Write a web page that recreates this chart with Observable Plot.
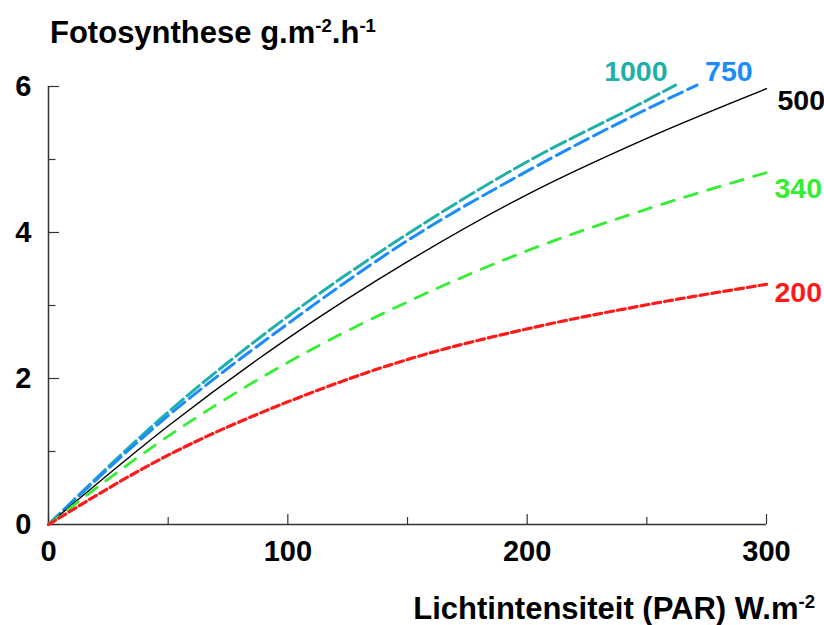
<!DOCTYPE html>
<html><head><meta charset="utf-8">
<script src="https://cdn.jsdelivr.net/npm/d3@7"></script>
<script src="https://cdn.jsdelivr.net/npm/@observablehq/plot@0.6"></script>
<style>
body{margin:0;background:#fff;}
#wrap{position:relative;width:824px;height:625px;font-family:"Liberation Sans",Arial,sans-serif;font-weight:bold;}
.ttl{position:absolute;font-size:31px;color:#000;white-space:nowrap;line-height:1;z-index:2;}
.ttl sup{font-size:0.6em;vertical-align:0.6em;line-height:0;}
#chart{position:absolute;left:0;top:50px;}
</style></head><body>
<div id="wrap">
<div class="ttl" id="title" style="left:50px;top:17px">Fotosynthese g.m<sup>-2</sup>.h<sup>-1</sup></div>
<div id="chart"></div>
<div class="ttl" id="xlab" style="right:9px;top:593px">Lichtintensiteit (PAR) W.m<sup>-2</sup></div>
</div>
<script>
// Light intensity (PAR, W/m2) sample points
const xFull = [0, 50, 100, 150, 200, 250, 300];
const x750 = [0, 50, 100, 150, 200, 250, 271];
const x1000 = [0, 50, 100, 150, 200, 250, 262];
// photosynthesis per CO2 level (ppm)
const y1000 = [0, 1.54, 2.85, 3.98, 4.97, 5.81, 6.02];
const y750 = [0, 1.49, 2.75, 3.89, 4.84, 5.69, 6.02];
const y500 = [0, 1.35, 2.55, 3.60, 4.52, 5.29, 5.97];
const y340 = [0, 1.21, 2.22, 3.05, 3.75, 4.32, 4.82];
const y200 = [0, 0.95, 1.68, 2.26, 2.68, 3.01, 3.29];
const seriesNames = ["1000", "750", "500", "340", "200"];
const xMajor = [0, 100, 200, 300];
const xMinor = [50, 150, 250];
const yMajor = [0, 2, 4, 6];
const yMinor = [1, 3, 5];

const seriesX = [x1000, x750, xFull, xFull, xFull];
const seriesY = [y1000, y750, y500, y340, y200];
const colors = ["#1fb0a9", "#1a8cff", "#000000", "#33ee33", "#ff1a1a"];
const dashes = ["16,5", "15,6", null, "13,11", "8,4"];
const widths = [3, 3, 1.4, 2.8, 3.2];
const labelStyle = [
  {dx: -8, dy: -13, textAnchor: "end"},
  {dx: 8, dy: -13, textAnchor: "start"},
  {dx: 11, dy: 12, textAnchor: "start"},
  {dx: 8, dy: 16, textAnchor: "start"},
  {dx: 8, dy: 9, textAnchor: "start"}
];

const marks = [];
seriesNames.forEach((name, i) => {
  const rows = seriesX[i].map((x, j) => ({x, y: seriesY[i][j], name}));
  marks.push(Plot.line(rows, {x: "x", y: "y", stroke: colors[i], strokeWidth: widths[i],
    strokeDasharray: dashes[i], curve: "monotone-x"}));
  marks.push(Plot.text([rows[rows.length - 1]], {x: "x", y: "y", text: "name", fill: colors[i],
    fontSize: 28.5, fontWeight: "bold", fontFamily: "Liberation Sans, Arial, sans-serif", ...labelStyle[i]}));
});

const chart = Plot.plot({
  width: 824,
  height: 530,
  marginLeft: 48,
  marginRight: 58,
  marginTop: 36,
  marginBottom: 56,
  style: {fontFamily: '"Liberation Sans",Arial,sans-serif', fontSize: "28px", fontWeight: "bold", color: "#000", background: "transparent"},
  x: {domain: [0, 300]},
  y: {domain: [0, 6]},
  marks: [
    Plot.axisX({ticks: xMajor, tickSize: -10, fill: "none", stroke: "#333", strokeWidth: 1.2, label: null}),
    Plot.axisX({ticks: xMinor, tickSize: -7, fill: "none", stroke: "#333", strokeWidth: 1.2, label: null}),
    Plot.axisX({ticks: xMajor, tickSize: 0, tickPadding: 16, tickFormat: "d", label: null, fontSize: 29, fontWeight: "bold"}),
    Plot.axisY({ticks: yMajor, tickSize: -11, fill: "none", stroke: "#333", strokeWidth: 1.2, label: null}),
    Plot.axisY({ticks: yMinor, tickSize: -7.5, fill: "none", stroke: "#333", strokeWidth: 1.2, label: null}),
    Plot.axisY({ticks: yMajor, tickSize: 0, tickPadding: 17, tickFormat: "d", label: null, fontSize: 29, fontWeight: "bold"}),
    Plot.ruleY([0], {stroke: "#333", strokeWidth: 1.5}),
    Plot.ruleX([0], {stroke: "#333", strokeWidth: 1.5}),
    ...marks
  ]
});
document.getElementById("chart").appendChild(chart);
</script>
</body></html>
